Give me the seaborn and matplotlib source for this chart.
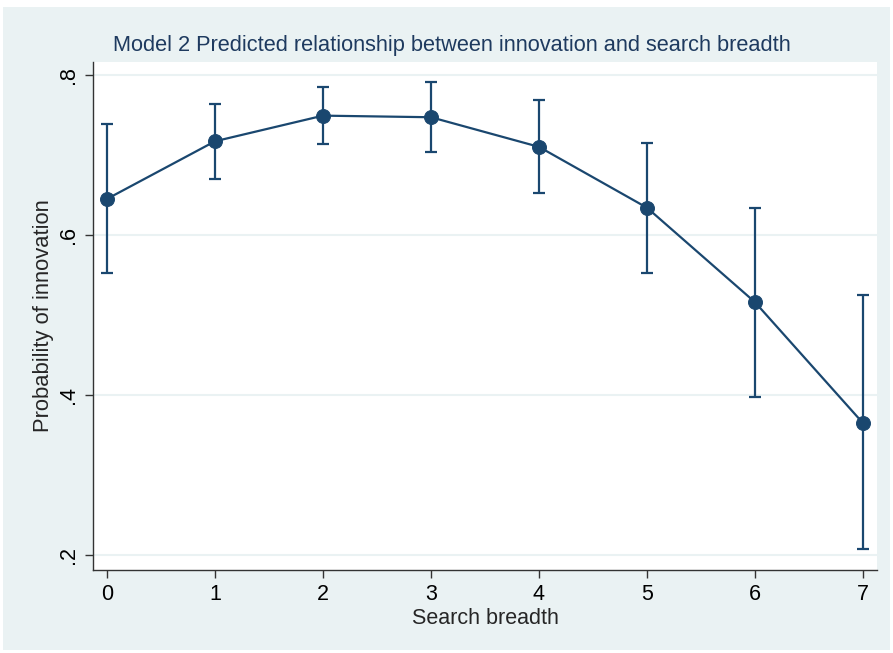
import matplotlib
matplotlib.use("Agg")
import matplotlib.pyplot as plt
import seaborn as sns
import pandas as pd
from matplotlib.patches import Rectangle

search_breadth = [0, 1, 2, 3, 4, 5, 6, 7]
prob = [0.645, 0.717, 0.749, 0.747, 0.710, 0.634, 0.516, 0.365]
ci_low = [0.552, 0.670, 0.714, 0.703, 0.652, 0.553, 0.397, 0.208]
ci_high = [0.739, 0.763, 0.785, 0.791, 0.768, 0.715, 0.634, 0.525]
y_ticks = [0.2, 0.4, 0.6, 0.8]
y_ticklabels = [".2", ".4", ".6", ".8"]

sns.set_theme(style="white")
plt.rcParams['font.family'] = ['Liberation Sans', 'DejaVu Sans']

navy = "#1a476f"
bg = "#eaf2f3"

fig = plt.figure(figsize=(8.93, 6.53), dpi=100, facecolor="white")
fig.patches.append(Rectangle((3 / 893, 3 / 653), 887 / 893, 643 / 653,
                             transform=fig.transFigure, facecolor=bg,
                             edgecolor="none", zorder=-10))
W, H = 893, 653
ax = fig.add_axes([93 / W, (H - 570) / H, (877 - 93) / W, (570 - 62) / H])
ax.set_facecolor("white")
ax.set_zorder(1)

df = pd.DataFrame({"x": search_breadth, "y": prob})
yerr = [[p - l for p, l in zip(prob, ci_low)], [h - p for p, h in zip(prob, ci_high)]]
ax.errorbar(search_breadth, prob, yerr=yerr, fmt="none", ecolor=navy,
            elinewidth=1.6, capsize=4.3, capthick=1.6, zorder=3)
sns.lineplot(data=df, x="x", y="y", ax=ax, color=navy, linewidth=1.6,
             marker="o", markersize=10, markeredgecolor=navy,
             markerfacecolor=navy, zorder=4)

ax.set_xlim(-0.13, 7.13)
ax.set_ylim(0.1815, 0.816)
ax.set_xticks(search_breadth)
ax.set_xticklabels([str(v) for v in search_breadth], fontsize=15.5)
ax.set_yticks(y_ticks)
ax.set_yticklabels(y_ticklabels, fontsize=15.5, rotation=90, va="center")
for t in y_ticks:
    ax.axhline(t, color=bg, linewidth=1.5, zorder=1)

for s in ["top", "right"]:
    ax.spines[s].set_visible(False)
for s in ["left", "bottom"]:
    ax.spines[s].set_color("#333333")
    ax.spines[s].set_linewidth(1.0)
ax.tick_params(axis="both", which="major", direction="out", length=6,
               width=1.0, color="#333333", labelcolor="black",
               bottom=True, left=True, pad=4)

ax.set_xlabel("Search breadth", fontsize=15.5, labelpad=2)
ax.set_ylabel("Probability of innovation", fontsize=15.8, labelpad=3)
fig.text(452 / W, 1 - 45 / H, "Model 2 Predicted relationship between innovation and search breadth",
         ha="center", va="center", fontsize=15.7, color="#1e3a5f")

fig.savefig("out.png", dpi=100, facecolor="white")
